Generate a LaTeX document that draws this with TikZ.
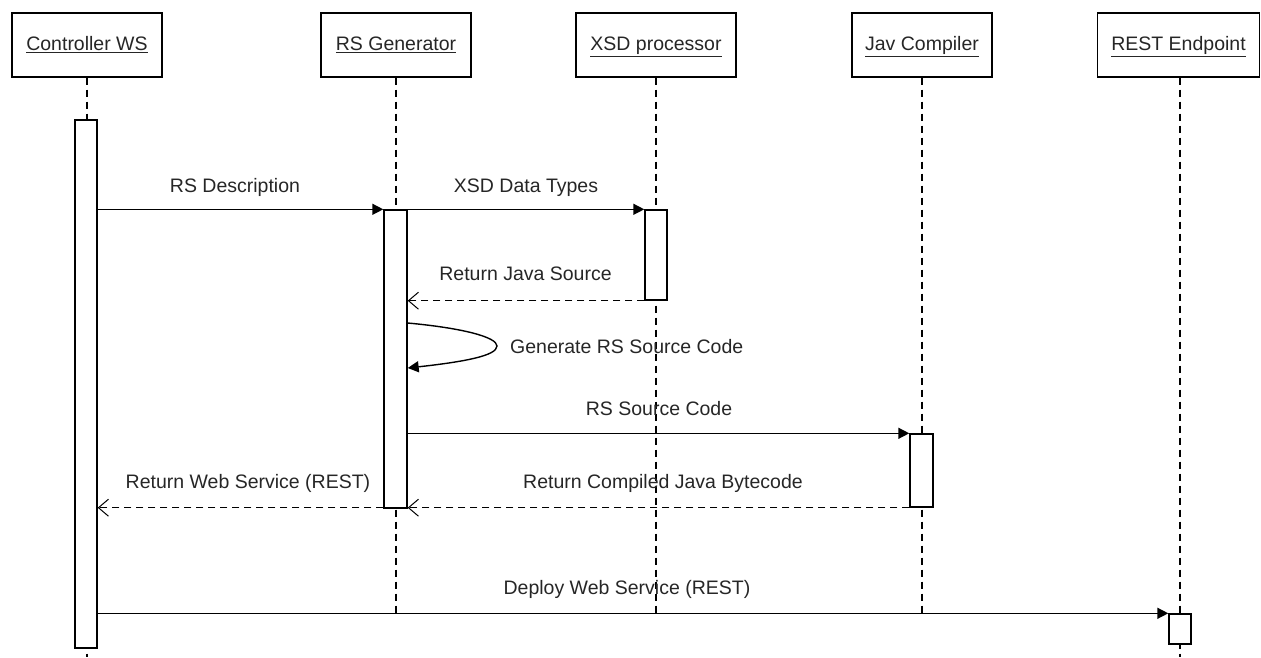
\documentclass[tikz,border=0pt]{standalone}
\usepackage{fontspec}
\setmainfont{Liberation Sans}
\usetikzlibrary{arrows.meta,backgrounds}
\newcommand{\myul}[1]{\vtop{\hbox{#1}\kern1.0pt\hrule height 1.2pt}}
\begin{document}
\begin{tikzpicture}[x=1pt,y=-1pt,
  every node/.style={font=\fontsize{19.5}{22}\selectfont, text=black!85},
  head/.style={draw=black, line width=1.4pt, minimum height=64pt, inner sep=0pt, text height=14pt, text depth=3pt},
  act/.style={draw=black, fill=white, line width=1.4pt, minimum width=22pt, inner sep=0pt},
  life/.style={line width=1.3pt, dash pattern=on 7pt off 5pt},
  call/.style={line width=1.4pt, -{Triangle[length=11pt,width=11pt]}},
  ret/.style={line width=1.3pt, dash pattern=on 7pt off 5pt, -{Straight Barb[length=10pt,width=17pt,line width=1pt]}},
  lbl/.style={inner sep=0pt, anchor=base}]
\useasboundingbox (0,0) rectangle (1261,657);
% headers
\node[head, minimum width=150pt] (hC) at (87,45) {\myul{Controller WS}};
\node[head, minimum width=150pt] (hR) at (396,45) {\myul{RS Generator}};
\node[head, minimum width=160pt] (hX) at (656,45) {\myul{XSD processor}};
\node[head, minimum width=140pt] (hJ) at (922,45) {\myul{Jav Compiler}};
\node[head, minimum width=162pt] (hE) at (1178.5,45) {\myul{REST Endpoint}};
% activations
\node[act, minimum height=528pt] (aC) at (86,384) {};
\node[act, minimum width=23pt, minimum height=298pt] (aR) at (395.5,359) {};
\node[act, minimum height=90pt] (aX) at (656,255) {};
\node[act, minimum width=23pt, minimum height=73pt] (aJ) at (921.5,470.5) {};
\node[act, minimum height=30pt] (aE) at (1180,629) {};
% lifeline ends
\coordinate (eC) at (hC.south |- 0,657);
\coordinate (eR) at (hR.south |- 0,613);
\coordinate (eX) at (hX.south |- 0,613);
\coordinate (eJ) at (hJ.south |- 0,613);
\coordinate (tE) at (aE.north |- hE.south);
\coordinate (eE) at (aE.north |- 0,657);
\begin{pgfonlayer}{background}
\draw[life] (hC.south) -- (eC);
\draw[life] (hR.south) -- (eR);
\draw[life] (hX.south) -- (eX);
\draw[life] (hJ.south) -- (eJ);
\draw[life] (tE) -- (eE);
\end{pgfonlayer}
% messages
\draw[call] (aC.east |- aR.north) -- (aR.north west);
\node[lbl] (l1) at (235,192) {RS Description};
\draw[call] (aR.north east) -- (aX.north west);
\node[lbl] (l2) at (526,192) {XSD Data Types};
\draw[ret] (aX.south west) -- (aR.east |- aX.south);
\node[lbl] (l3) at (525.5,280) {Return Java Source};
\coordinate (s1) at (aR.east |- 0,323);
\coordinate (s2) at (aR.east |- 0,368);
\draw[call] (s1) .. controls (462,328) and (497,337) .. (497,346) .. controls (497,356) and (462,362) .. (s2);
\node[lbl, anchor=base west] (l4) at (510,353) {Generate RS Source Code};
\draw[call] (aR.east |- aJ.north) -- (aJ.north west);
\node[lbl] (l5) at (659,415) {RS Source Code};
\draw[ret] (aJ.south west) -- (aR.east |- aJ.south);
\node[lbl] (l6) at (663,488) {Return Compiled Java Bytecode};
\draw[ret] (aR.west |- aJ.south) -- (aC.east |- aJ.south);
\node[lbl] (l7) at (248,488) {Return Web Service (REST)};
\draw[call] (aC.east |- aE.north) -- (aE.north west);
\node[lbl] (l8) at (627,594) {Deploy Web Service (REST)};
\end{tikzpicture}
\end{document}
